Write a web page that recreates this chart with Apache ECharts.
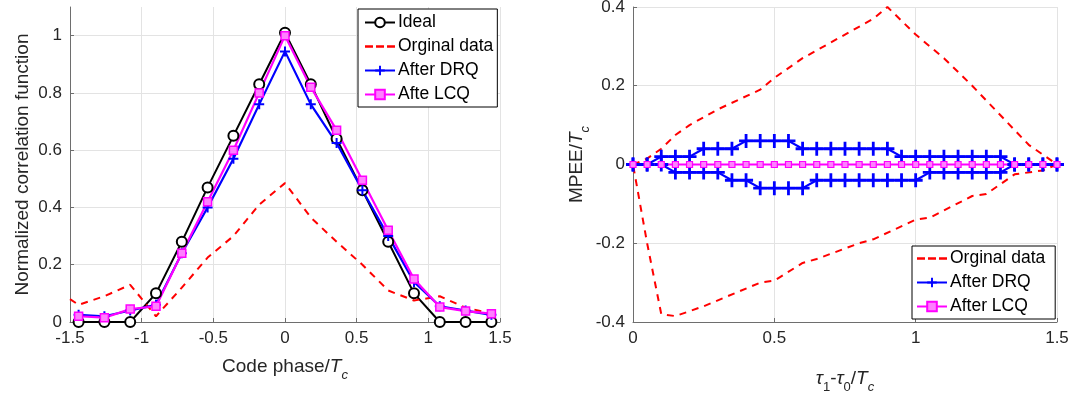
<!DOCTYPE html>
<html>
<head>
<meta charset="utf-8">
<script src="https://cdn.jsdelivr.net/npm/echarts@6/dist/echarts.min.js"></script>
<style>
html,body{margin:0;padding:0;background:#fff;}
#chart{width:1073px;height:394px;}
</style>
</head>
<body>
<div id="chart"></div>
<script>
// ---- Left panel: normalized correlation function ----
const codePhase = [-1.44,-1.26,-1.08,-0.9,-0.72,-0.54,-0.36,-0.18,0,0.18,0.36,0.54,0.72,0.9,1.08,1.26,1.44];
const idealCorr = [0,0,0,0.10,0.28,0.47,0.65,0.83,1.01,0.83,0.64,0.46,0.28,0.10,0,0,0];
const drqCorr   = [0.025,0.02,0.04,0.06,0.24,0.40,0.57,0.76,0.945,0.76,0.625,0.46,0.30,0.14,0.055,0.04,0.025];
const lcqCorr   = [0.02,0.015,0.045,0.055,0.24,0.42,0.60,0.80,1.0,0.82,0.67,0.495,0.32,0.15,0.052,0.038,0.029];
const origPhase = [-1.5,-1.44,-1.26,-1.08,-0.9,-0.72,-0.54,-0.36,-0.18,0,0.18,0.36,0.54,0.72,0.9,1.08,1.26,1.44,1.5];
const origCorr  = [0.08,0.06,0.09,0.13,0.02,0.12,0.225,0.30,0.41,0.485,0.365,0.28,0.20,0.11,0.075,0.09,0.05,0.03,0.03];

// ---- Right panel: MPEE ----
const mpeeX = [0,0.05,0.1,0.15,0.2,0.25,0.3,0.35,0.4,0.45,0.5,0.55,0.6,0.65,0.7,0.75,0.8,0.85,0.9,0.95,1.0,1.05,1.1,1.15,1.2,1.25,1.3,1.35,1.4,1.45,1.5];
const drqUpper = [0,0,0.02,0.02,0.02,0.04,0.04,0.04,0.06,0.06,0.06,0.06,0.04,0.04,0.04,0.04,0.04,0.04,0.04,0.02,0.02,0.02,0.02,0.02,0.02,0.02,0.02,0,0,0,0];
const drqLower = [0,0,0,-0.02,-0.02,-0.02,-0.02,-0.04,-0.04,-0.06,-0.06,-0.06,-0.06,-0.04,-0.04,-0.04,-0.04,-0.04,-0.04,-0.04,-0.04,-0.02,-0.02,-0.02,-0.02,-0.02,-0.02,0,0,0,0];
const lcqMpee  = [0,0,0,0,0,0,0,0,0,0,0,0,0,0,0,0,0,0,0,0,0,0,0,0,0,0,0,0,0,0,0];
const origUpperX = [0,0.05,0.1,0.15,0.2,0.3,0.45,0.5,0.6,0.85,0.9,1.0,1.1,1.2,1.3,1.4,1.5];
const origUpperY = [0,0.015,0.04,0.075,0.10,0.14,0.19,0.22,0.27,0.37,0.40,0.33,0.27,0.20,0.125,0.05,0];
const origLowerX = [0,0.05,0.1,0.15,0.25,0.45,0.5,0.6,0.65,0.8,0.85,1.0,1.05,1.2,1.25,1.35,1.45,1.5];
const origLowerY = [0,-0.2,-0.38,-0.385,-0.36,-0.30,-0.295,-0.25,-0.24,-0.20,-0.19,-0.14,-0.135,-0.08,-0.075,-0.025,-0.015,0];

function pairs(xs, ys){ return xs.map((x,i)=>[x, ys[i]]); }

const FONT = 'Liberation Sans, Arial, Helvetica, sans-serif';
const AXC = '#262626';
const plusPath = 'path://M-2,-10h4v20h-4z M-10,-2h20v4h-20z';
const dashIcon = 'path://M0,0h8v2.4h-8z M11,0h8v2.4h-8z M22,0h8v2.4h-8z';

const nameRich = {
  n:{fontSize:19, fontFamily:FONT, color:AXC, lineHeight:22, verticalAlign:'top'},
  i:{fontSize:19, fontFamily:FONT, color:AXC, fontStyle:'italic', lineHeight:22, verticalAlign:'top'},
  s:{fontSize:13, fontFamily:FONT, color:AXC, lineHeight:25, verticalAlign:'bottom'},
  si:{fontSize:13, fontFamily:FONT, color:AXC, fontStyle:'italic', lineHeight:25, verticalAlign:'bottom'}
};

function valAxis(extra){
  return Object.assign({
    type:'value',
    axisLine:{show:true, onZero:false, lineStyle:{color:'#6e6e6e', width:1}},
    axisTick:{show:true, inside:true, length:4, lineStyle:{color:'#6e6e6e'}},
    axisLabel:{color:AXC, fontSize:17, fontFamily:FONT, margin:8},
    splitLine:{show:true, lineStyle:{color:'#e3e3e3', width:1}},
    nameLocation:'middle',
    nameTextStyle:{rich:nameRich}
  }, extra);
}

const legendText = {fontSize:17.5, fontFamily:FONT, color:'#000', lineHeight:19, padding:[0,0,0,-2]};

const chart = echarts.init(document.getElementById('chart'), null, {renderer:'canvas'});
const option = {
  animation:false,
  backgroundColor:'#fff',
  grid:[
    {left:70, right:573, top:7, bottom:72, containLabel:false, outerBoundsMode:'none'},
    {left:633, right:16, top:7, bottom:72, containLabel:false, outerBoundsMode:'none'}
  ],
  xAxis:[
    valAxis({gridIndex:0, min:-1.5, max:1.5, interval:0.5, name:'{n|Code phase/}{i|T}{si|c}', nameGap:35}),
    valAxis({gridIndex:1, min:0, max:1.5, interval:0.5, name:'{i|τ}{s|1}{n|-}{i|τ}{s|0}{n|/}{i|T}{si|c}', nameGap:47})
  ],
  yAxis:[
    valAxis({gridIndex:0, min:0, max:1.1, interval:0.2, name:'{n|Normalized correlation function}', nameGap:35,
      axisLabel:{color:AXC, fontSize:17, fontFamily:FONT, margin:8, showMaxLabel:false},
      splitLine:{show:true, lineStyle:{color:['#e3e3e3','#e3e3e3','#e3e3e3','#e3e3e3','#e3e3e3','#e3e3e3','rgba(0,0,0,0)'], width:1}}}),
    valAxis({gridIndex:1, min:-0.4, max:0.4, interval:0.2, name:'{n|MPEE/}{i|T}{si|c}', nameGap:38,
      axisLabel:{color:AXC, fontSize:17, fontFamily:FONT, margin:8, formatter:v=>String(Math.round(v*10)/10)}})
  ],
  legend:[
    {
      data:['Ideal',{name:'Orginal data', icon:dashIcon},'After DRQ','Afte LCQ'],
      orient:'vertical', left:358, top:9,
      itemWidth:30, itemHeight:12, itemGap:5,
      textStyle:legendText,
      borderColor:'#000', borderWidth:1, backgroundColor:'#fff', padding:[4,4,3,6],
      borderRadius:0
    },
    {
      data:[{name:'Orginal data ', icon:dashIcon},'After DRQ ','After LCQ'],
      orient:'vertical', left:912, top:246,
      itemWidth:30, itemHeight:12, itemGap:5,
      textStyle:legendText,
      borderColor:'#000', borderWidth:1, backgroundColor:'#fff', padding:[3,5,3,4],
      borderRadius:0
    }
  ],
  series:[
    {
      name:'Ideal', type:'line', xAxisIndex:0, yAxisIndex:0, clip:false,
      data:pairs(codePhase, idealCorr),
      symbol:'emptyCircle', symbolSize:10,
      lineStyle:{color:'#000', width:2}, itemStyle:{color:'#000', borderWidth:1.8}
    },
    {
      name:'Orginal data', type:'line', xAxisIndex:0, yAxisIndex:0,
      data:pairs(origPhase, origCorr), symbol:'none',
      lineStyle:{color:'#ff0000', width:2, type:[7,6]}, itemStyle:{color:'#ff0000'}
    },
    {
      name:'After DRQ', type:'line', xAxisIndex:0, yAxisIndex:0, clip:false,
      data:pairs(codePhase, drqCorr),
      symbol:plusPath, symbolSize:10,
      lineStyle:{color:'#0000ff', width:2.2}, itemStyle:{color:'#0000ff'}
    },
    {
      name:'Afte LCQ', type:'line', xAxisIndex:0, yAxisIndex:0, clip:false,
      data:pairs(codePhase, lcqCorr),
      symbol:'rect', symbolSize:8,
      lineStyle:{color:'#ff00ff', width:2.2}, itemStyle:{color:'#ff80ff', borderColor:'#ff00ff', borderWidth:1.5}
    },
    {
      name:'Orginal data ', type:'line', xAxisIndex:1, yAxisIndex:1,
      data:pairs(origUpperX, origUpperY).concat(pairs(origLowerX, origLowerY).reverse()), symbol:'none',
      lineStyle:{color:'#ff0000', width:2, type:[7,6]}, itemStyle:{color:'#ff0000'}
    },
    {
      name:'After DRQ ', type:'line', xAxisIndex:1, yAxisIndex:1, clip:false,
      data:pairs(mpeeX, drqUpper).concat(pairs(mpeeX, drqLower).reverse()),
      symbol:plusPath, symbolSize:14,
      lineStyle:{color:'#0000ff', width:2.2}, itemStyle:{color:'#0000ff'}
    },
    {
      name:'After LCQ', type:'line', xAxisIndex:1, yAxisIndex:1, clip:false,
      data:pairs(mpeeX, lcqMpee),
      symbol:'rect', symbolSize:6,
      lineStyle:{color:'#ff00ff', width:2.2}, itemStyle:{color:'#ff80ff', borderColor:'#ff00ff', borderWidth:1.2}
    }
  ]
};
chart.setOption(option);
</script>
</body>
</html>
